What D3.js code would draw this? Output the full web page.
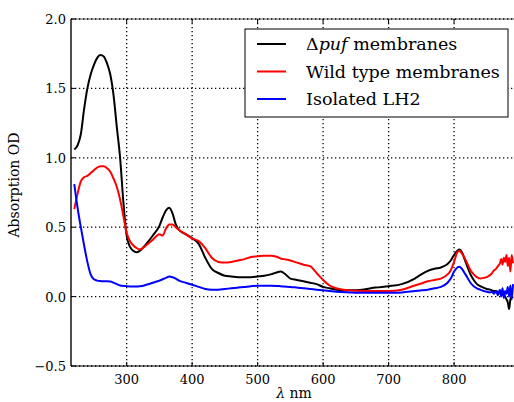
<!DOCTYPE html>
<html><head><meta charset="utf-8">
<script src="https://cdn.jsdelivr.net/npm/d3@7"></script>
<style>
body{margin:0;background:#fff;}
</style></head>
<body><svg id="c" width="514" height="402"></svg>
<script>
const wavelengths=[220,225,230,235,240,245,250,255,260,265,270,275,280,285,290,295,300,305,310,315,320,330,340,350,355,360,365,370,375,380,390,400,410,420,430,440,450,460,470,480,490,500,510,520,530,535,540,550,560,570,580,590,600,610,620,640,660,680,700,720,740,750,760,770,780,790,795,800,805,808,812,816,820,825,830,835,840,845,850,855,858,861,864,867,870,872,874,876,878,880,882,884,886,888,890];
const pufValues=[1.06,1.09,1.17,1.35,1.50,1.60,1.67,1.72,1.74,1.73,1.68,1.60,1.45,1.22,1.00,0.68,0.44,0.36,0.33,0.32,0.33,0.38,0.44,0.51,0.57,0.62,0.64,0.60,0.52,0.48,0.45,0.42,0.38,0.28,0.20,0.17,0.15,0.145,0.14,0.14,0.14,0.145,0.15,0.16,0.175,0.18,0.17,0.13,0.12,0.11,0.10,0.09,0.07,0.06,0.05,0.045,0.05,0.065,0.075,0.09,0.13,0.16,0.185,0.20,0.21,0.235,0.26,0.30,0.33,0.34,0.32,0.27,0.22,0.16,0.12,0.09,0.075,0.065,0.055,0.05,0.045,0.04,0.04,0.035,0.03,0.025,0.02,0.01,0.0,-0.02,-0.04,-0.09,-0.02,0.0,-0.01];
const wildValues=[0.63,0.74,0.83,0.86,0.87,0.89,0.91,0.93,0.94,0.94,0.925,0.90,0.85,0.79,0.70,0.58,0.46,0.40,0.37,0.35,0.34,0.37,0.41,0.45,0.44,0.49,0.52,0.52,0.50,0.48,0.45,0.42,0.40,0.35,0.28,0.25,0.245,0.25,0.26,0.27,0.285,0.29,0.295,0.295,0.285,0.275,0.27,0.26,0.245,0.23,0.22,0.17,0.12,0.08,0.06,0.045,0.04,0.04,0.04,0.05,0.08,0.095,0.11,0.12,0.13,0.16,0.19,0.25,0.32,0.33,0.31,0.28,0.24,0.19,0.16,0.14,0.13,0.135,0.14,0.155,0.17,0.19,0.20,0.22,0.24,0.27,0.23,0.28,0.25,0.30,0.22,0.28,0.18,0.30,0.24];
const lh2Values=[0.81,0.64,0.50,0.37,0.25,0.16,0.125,0.115,0.112,0.11,0.11,0.108,0.10,0.09,0.08,0.077,0.075,0.073,0.072,0.072,0.074,0.085,0.10,0.115,0.125,0.135,0.144,0.14,0.13,0.115,0.10,0.085,0.07,0.055,0.05,0.05,0.055,0.06,0.065,0.07,0.075,0.078,0.078,0.078,0.077,0.075,0.073,0.07,0.065,0.06,0.055,0.05,0.045,0.04,0.035,0.03,0.027,0.027,0.028,0.03,0.04,0.045,0.05,0.06,0.07,0.10,0.13,0.18,0.21,0.215,0.20,0.17,0.14,0.10,0.075,0.06,0.05,0.04,0.035,0.03,0.035,0.02,0.04,0.01,0.05,0.0,0.06,-0.01,0.04,0.02,0.07,0.0,0.08,-0.02,0.09];
const xTicks=[300,400,500,600,700,800];
const yTicks=[-0.5,0.0,0.5,1.0,1.5,2.0];
const seriesNames=["puf","Wild type membranes","Isolated LH2"];
const seriesColors=["#000000","#ff0000","#0000ff"];
const FONT="'DejaVu Serif'";

const svg=d3.select("#c");
const L=71,R=513,T=19,B=366;
const x=d3.scaleLinear().domain([215,890]).range([L,R]);
const y=d3.scaleLinear().domain([-0.5,2.0]).range([B,T]);

svg.append("defs").append("clipPath").attr("id","clip").append("rect")
  .attr("x",L).attr("y",T).attr("width",R-L+2).attr("height",B-T);

const g=svg.append("g");
g.selectAll(".gx").data(xTicks).enter().append("line")
 .attr("x1",d=>x(d)).attr("x2",d=>x(d)).attr("y1",T).attr("y2",B)
 .attr("stroke","#000").attr("stroke-width",1.3).attr("stroke-dasharray","1.3,2.7");
g.selectAll(".gy").data(yTicks).enter().append("line")
 .attr("x1",L).attr("x2",R+2).attr("y1",d=>y(d)).attr("y2",d=>y(d))
 .attr("stroke","#000").attr("stroke-width",1.3).attr("stroke-dasharray","1.3,2.7");

svg.append("line").attr("x1",L).attr("x2",R+2).attr("y1",T).attr("y2",T).attr("stroke","#000").attr("stroke-width",0.6);
svg.append("line").attr("x1",L).attr("x2",R+2).attr("y1",B).attr("y2",B).attr("stroke","#000").attr("stroke-width",1);
svg.append("line").attr("x1",L).attr("x2",L).attr("y1",T).attr("y2",B).attr("stroke","#222").attr("stroke-width",1.6);

xTicks.forEach(t=>{
  svg.append("line").attr("x1",x(t)).attr("x2",x(t)).attr("y1",B).attr("y2",B-4).attr("stroke","#000");
  svg.append("line").attr("x1",x(t)).attr("x2",x(t)).attr("y1",T).attr("y2",T+4).attr("stroke","#000");
});
yTicks.forEach(t=>{
  svg.append("line").attr("x1",L).attr("x2",L+4).attr("y1",y(t)).attr("y2",y(t)).attr("stroke","#000");
});

svg.selectAll(".xl").data(xTicks).enter().append("text")
 .style("font-family",FONT)
 .attr("x",d=>x(d)).attr("y",384).attr("text-anchor","middle").attr("font-size","13px")
 .text(d=>d);
svg.selectAll(".yl").data(yTicks).enter().append("text")
 .style("font-family",FONT)
 .attr("x",66).attr("y",d=>y(d)+5).attr("text-anchor","end").attr("font-size","13px")
 .text(d=>(d<0?"\u2212":"")+Math.abs(d).toFixed(1));

const xl=svg.append("text").style("font-family",FONT).attr("x",294).attr("y",398).attr("text-anchor","middle").attr("font-size","14px");
xl.append("tspan").attr("font-style","italic").text("λ");
xl.append("tspan").text(" nm");
svg.append("text").style("font-family",FONT).attr("transform","translate(19,185) rotate(-90)")
 .attr("text-anchor","middle").attr("font-size","14px").text("Absorption OD");

const data=[pufValues,wildValues,lh2Values];
const line=d3.line().x((d,i)=>x(wavelengths[i])).y(d=>y(d)).curve(d3.curveMonotoneX);
const pg=svg.append("g").attr("clip-path","url(#clip)");
data.forEach((vals,k)=>{
  pg.append("path").attr("d",line(vals)).attr("fill","none")
   .attr("stroke",seriesColors[k]).attr("stroke-width",2).attr("stroke-linejoin","round");
});

const lg=svg.append("g");
lg.append("rect").attr("x",245).attr("y",29).attr("width",263).attr("height",88)
 .attr("fill","#fff").attr("stroke","#000").attr("stroke-width",1);
const rowsY=[44,71.5,99];
seriesNames.forEach((n,k)=>{
  lg.append("line").attr("x1",257).attr("x2",286).attr("y1",rowsY[k]).attr("y2",rowsY[k])
    .attr("stroke",seriesColors[k]).attr("stroke-width",2);
  const t=lg.append("text").style("font-family",FONT).attr("x",306).attr("y",rowsY[k]+6).attr("font-size","17.5px");
  if(k===0){
    t.append("tspan").text("\u0394");
    t.append("tspan").attr("font-style","italic").text("puf");
    t.append("tspan").text(" membranes");
  } else t.text(n);
});
</script></body></html>
